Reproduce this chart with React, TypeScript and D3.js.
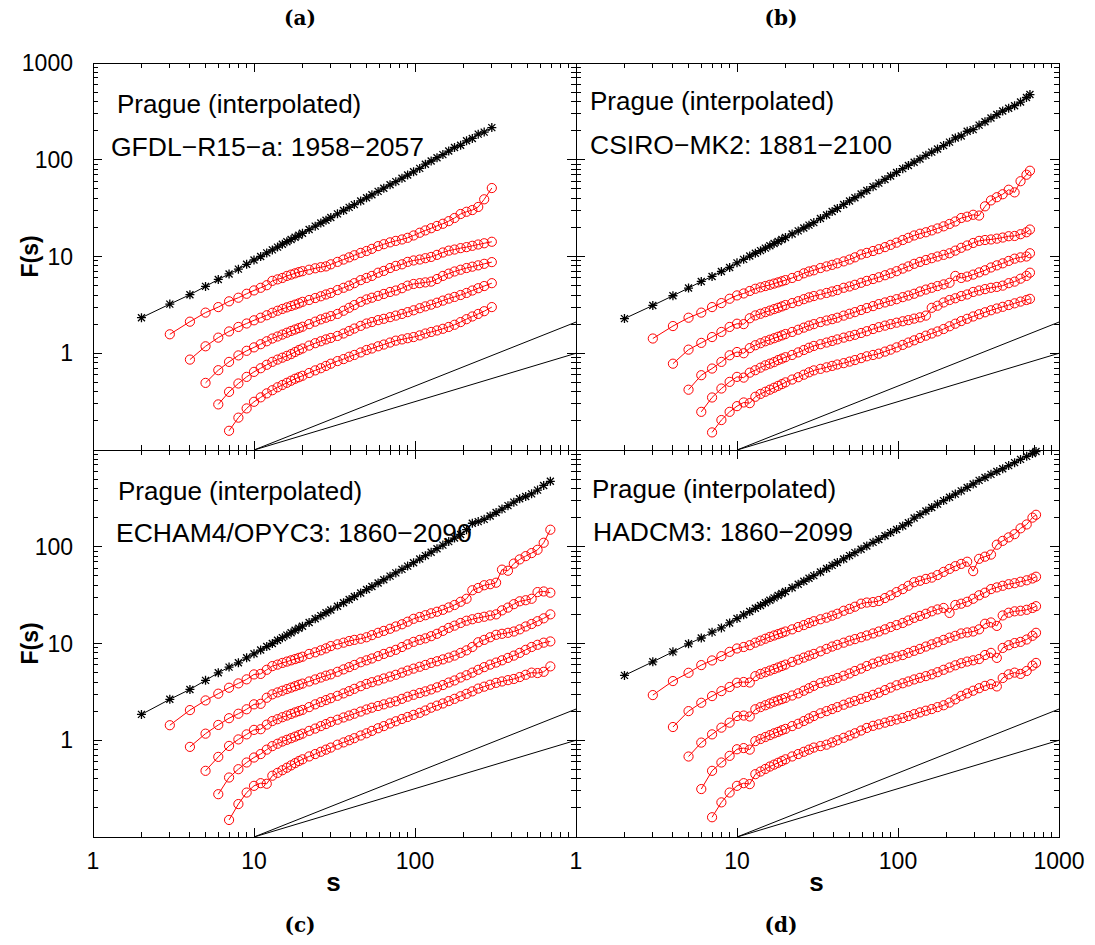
import React from "react";
import * as d3 from "d3";

// ---------- data: s (months) grids ----------
const S_HEAD = [2, 3, 4, 5, 6, 7, 8, 9, 10, 11, 12, 13, 14, 15, 16, 17, 18, 19, 20, 22, 24, 26, 28, 30, 33, 36, 39, 42, 46, 50, 54, 59, 64, 70, 76, 83, 90, 98, 107, 116, 126, 137, 149, 162, 176, 192, 209, 227, 247, 269];
const S_A = [...S_HEAD, 300];
const S_B = [...S_HEAD, 293, 319, 347, 378, 411, 447, 487, 530, 577, 628, 660];
const S_C = [...S_HEAD, 293, 319, 347, 378, 411, 447, 487, 530, 577, 630, 693];
const S_D = [...S_HEAD, 293, 319, 347, 378, 411, 447, 487, 530, 577, 630, 684, 720];

// ---------- panel (a) GFDL-R15-a ----------
const A_F = [2.33, 3.22, 4.03, 4.91, 5.79, 6.6, 7.4, 8.3, 9.2, 10.0, 10.9, 11.7, 12.5, 13.4, 14.2, 15.0, 15.8, 16.6, 17.4, 19.0, 20.6, 22.2, 23.7, 25.3, 27.6, 29.9, 32.2, 34.4, 37.5, 40.4, 43.4, 47.1, 50.8, 55.1, 59.4, 64.5, 69.5, 75.1, 81.4, 89.9, 97.1, 105, 113, 123, 134, 141, 157, 166, 184, 193, 215];
const A_D1 = [1.57, 2.12, 2.63, 3.0, 3.44, 3.75, 4.12, 4.46, 4.75, 5.05, 5.6, 5.8, 6.0, 6.3, 6.5, 6.7, 6.9, 7.05, 7.3, 7.55, 7.75, 7.9, 8.3, 8.8, 9.3, 9.8, 10.3, 10.9, 11.4, 12.0, 12.8, 13.4, 14.0, 14.5, 15.0, 15.6, 16.5, 17.6, 18.6, 19.6, 20.7, 21.8, 23.2, 25.0, 27.5, 29.0, 30.2, 32.5, 39, 51];
const A_D2 = [0.86, 1.18, 1.45, 1.68, 1.87, 2.03, 2.19, 2.33, 2.47, 2.62, 2.75, 2.87, 2.98, 3.08, 3.18, 3.28, 3.4, 3.55, 3.72, 3.88, 4.05, 4.2, 4.5, 4.75, 5.0, 5.3, 5.7, 6.0, 6.3, 6.8, 7.1, 7.6, 8.0, 8.3, 8.8, 9.1, 9.3, 9.6, 9.9, 10.4, 11.0, 11.5, 11.8, 12.2, 12.5, 12.9, 13.3, 13.7, 14.2];
const A_D3 = [0.494, 0.668, 0.814, 0.95, 1.06, 1.15, 1.24, 1.33, 1.42, 1.49, 1.56, 1.63, 1.70, 1.76, 1.82, 1.88, 2.0, 2.12, 2.24, 2.33, 2.42, 2.55, 2.75, 2.95, 3.15, 3.4, 3.6, 3.75, 3.92, 4.1, 4.3, 4.45, 4.7, 5.0, 5.2, 5.3, 5.4, 5.5, 5.85, 6.3, 6.65, 7.0, 7.3, 7.6, 7.85, 8.1, 8.4, 8.75];
const A_D4 = [0.296, 0.399, 0.487, 0.57, 0.642, 0.70, 0.76, 0.815, 0.86, 0.90, 0.94, 0.98, 1.03, 1.08, 1.12, 1.2, 1.27, 1.33, 1.39, 1.44, 1.51, 1.6, 1.7, 1.8, 1.92, 2.03, 2.1, 2.2, 2.27, 2.36, 2.45, 2.55, 2.66, 2.78, 2.92, 3.05, 3.18, 3.33, 3.5, 3.67, 3.82, 4.0, 4.2, 4.45, 4.7, 4.95, 5.3];
const A_D5 = [0.158, 0.216, 0.269, 0.315, 0.35, 0.385, 0.415, 0.445, 0.47, 0.495, 0.52, 0.545, 0.565, 0.585, 0.625, 0.665, 0.70, 0.74, 0.78, 0.83, 0.87, 0.92, 0.96, 1.02, 1.08, 1.12, 1.18, 1.23, 1.29, 1.35, 1.39, 1.43, 1.47, 1.53, 1.6, 1.66, 1.72, 1.79, 1.87, 1.97, 2.1, 2.25, 2.4, 2.55, 2.72, 3.0];

// ---------- panel (b) CSIRO-MK2 ----------
const B_F = [2.28, 3.12, 3.93, 4.72, 5.52, 6.22, 7.0, 7.7, 8.6, 9.34, 10.1, 10.8, 11.5, 12.2, 12.9, 13.6, 14.3, 15.0, 15.7, 17.1, 18.4, 19.7, 21.1, 22.4, 24.7, 26.9, 29.2, 31.4, 34.5, 37.5, 40.5, 44.3, 48.1, 52.7, 57.3, 62.6, 67.9, 73.9, 80.9, 87.3, 94.4, 102, 111, 120, 129, 140, 152, 168, 176, 197, 205, 228, 247, 270, 293, 319, 340, 362, 395, 440, 472];
const B_D1 = [1.42, 1.91, 2.33, 2.63, 3.0, 3.3, 3.66, 3.96, 4.15, 4.4, 4.64, 4.8, 4.95, 5.1, 5.25, 5.4, 5.55, 5.7, 6.0, 6.3, 6.7, 7.0, 7.2, 7.6, 7.9, 8.2, 8.5, 8.9, 9.3, 9.8, 10.5, 10.9, 11.4, 11.9, 12.5, 13.2, 13.9, 14.8, 15.6, 16.5, 17.2, 17.8, 18.6, 19.5, 20.5, 21.7, 23.0, 25.0, 25.8, 27.0, 26.5, 33, 38, 41, 44, 49, 46, 60, 70, 77];
const B_D2 = [0.78, 1.09, 1.28, 1.47, 1.66, 1.87, 2.02, 2.0, 2.3, 2.46, 2.56, 2.66, 2.76, 2.86, 2.95, 3.05, 3.15, 3.3, 3.45, 3.62, 3.78, 3.9, 4.05, 4.2, 4.35, 4.5, 4.75, 4.9, 5.1, 5.35, 5.6, 5.85, 6.1, 6.4, 6.7, 7.05, 7.5, 7.9, 8.4, 8.8, 9.2, 9.6, 10.0, 10.4, 10.8, 11.5, 12.3, 13.0, 13.8, 14.5, 14.8, 15.0, 15.3, 15.7, 16.2, 16.3, 17.0, 17.8, 19.0];
const B_D3 = [0.42, 0.593, 0.695, 0.814, 0.953, 1.03, 1.0, 1.13, 1.21, 1.27, 1.33, 1.38, 1.43, 1.48, 1.53, 1.58, 1.66, 1.75, 1.84, 1.93, 2.0, 2.1, 2.18, 2.25, 2.33, 2.45, 2.56, 2.66, 2.8, 2.93, 3.07, 3.22, 3.35, 3.48, 3.62, 3.8, 3.95, 4.12, 4.35, 4.55, 4.75, 4.95, 5.15, 5.35, 6.3, 6.0, 6.2, 6.5, 6.85, 7.2, 7.7, 8.1, 8.5, 9.0, 9.5, 9.8, 10.0, 10.8];
const B_D4 = [0.248, 0.349, 0.432, 0.506, 0.57, 0.56, 0.63, 0.668, 0.71, 0.75, 0.78, 0.81, 0.85, 0.88, 0.91, 0.96, 1.02, 1.08, 1.14, 1.19, 1.24, 1.29, 1.34, 1.39, 1.45, 1.5, 1.55, 1.62, 1.69, 1.78, 1.86, 1.93, 2.0, 2.07, 2.14, 2.2, 2.28, 2.35, 2.45, 2.95, 3.1, 3.35, 3.55, 3.7, 3.9, 4.05, 4.3, 4.45, 4.6, 4.75, 4.85, 5.0, 5.3, 5.5, 5.9, 6.3, 6.8];
const B_D5 = [0.152, 0.204, 0.248, 0.284, 0.31, 0.305, 0.355, 0.38, 0.40, 0.42, 0.44, 0.46, 0.48, 0.50, 0.535, 0.565, 0.60, 0.635, 0.665, 0.69, 0.715, 0.74, 0.765, 0.79, 0.82, 0.85, 0.89, 0.93, 0.96, 0.99, 1.04, 1.09, 1.15, 1.22, 1.29, 1.36, 1.44, 1.52, 1.6, 1.68, 1.78, 1.9, 2.02, 2.15, 2.27, 2.4, 2.53, 2.65, 2.78, 2.9, 3.02, 3.15, 3.28, 3.42, 3.55, 3.65];

// ---------- panel (c) ECHAM4/OPYC3 ----------
const C_F = [1.85, 2.65, 3.35, 4.16, 4.98, 5.7, 6.32, 7.11, 7.82, 8.56, 9.3, 10.0, 10.8, 11.5, 12.2, 12.9, 13.7, 14.4, 15.1, 16.5, 18.0, 19.4, 20.8, 22.2, 24.3, 26.4, 28.5, 30.6, 33.3, 36.1, 38.8, 42.2, 45.6, 49.7, 53.7, 58.4, 63.1, 68.4, 74.6, 80.9, 87.8, 95.5, 104, 113, 123, 134, 150, 175, 182, 192, 208, 226, 245, 266, 289, 313, 330, 352, 385, 430, 475];
const C_D1 = [1.43, 2.05, 2.58, 3.03, 3.49, 3.87, 4.26, 4.79, 4.85, 5.35, 5.84, 6.05, 6.3, 6.5, 6.7, 6.9, 7.1, 7.3, 7.8, 8.1, 8.5, 8.9, 9.4, 9.8, 10.2, 10.6, 10.9, 11.2, 11.6, 12.2, 12.9, 13.5, 14.2, 15.0, 15.8, 16.8, 18.0, 18.8, 19.6, 20.5, 21.3, 22.3, 23.6, 25.0, 27.0, 29.0, 35.5, 37.5, 40.0, 41.0, 42.5, 58.0, 56.5, 67, 74, 80, 86, 93, 110, 150];
const C_D2 = [0.854, 1.17, 1.44, 1.69, 1.88, 2.09, 2.35, 2.38, 2.75, 2.98, 3.12, 3.25, 3.38, 3.5, 3.62, 3.74, 3.85, 4.05, 4.25, 4.45, 4.65, 4.8, 5.1, 5.4, 5.7, 6.0, 6.4, 6.7, 7.0, 7.4, 7.8, 8.2, 8.6, 9.2, 9.8, 10.4, 10.9, 11.3, 11.9, 12.6, 13.5, 14.5, 15.3, 16.3, 17.2, 17.8, 18.4, 18.9, 19.5, 20.0, 22.0, 23.5, 25.5, 27.3, 28.0, 29.0, 34.0, 34.5, 33.5];
const C_D3 = [0.483, 0.673, 0.874, 1.02, 1.15, 1.28, 1.3, 1.45, 1.58, 1.65, 1.73, 1.8, 1.87, 1.94, 2.0, 2.06, 2.2, 2.35, 2.48, 2.6, 2.72, 2.88, 3.05, 3.22, 3.4, 3.62, 3.82, 3.98, 4.15, 4.35, 4.55, 4.75, 5.0, 5.25, 5.5, 5.75, 6.0, 6.3, 6.55, 6.85, 7.15, 7.5, 8.0, 8.5, 9.2, 10.3, 10.9, 11.6, 12.3, 12.6, 12.9, 13.3, 14.0, 15.0, 15.9, 17.0, 18.2, 20.0];
const C_D4 = [0.277, 0.412, 0.502, 0.589, 0.663, 0.72, 0.80, 0.87, 0.92, 0.97, 1.01, 1.05, 1.09, 1.13, 1.17, 1.25, 1.32, 1.4, 1.47, 1.55, 1.63, 1.72, 1.8, 1.88, 1.98, 2.08, 2.17, 2.26, 2.35, 2.45, 2.53, 2.68, 2.82, 2.95, 3.08, 3.2, 3.35, 3.52, 3.72, 3.95, 4.15, 4.45, 4.7, 5.0, 5.35, 5.7, 6.05, 6.35, 6.7, 7.1, 7.5, 8.0, 8.6, 9.2, 9.7, 10.2, 10.5];
const C_D5 = [0.15, 0.219, 0.288, 0.338, 0.36, 0.355, 0.43, 0.46, 0.49, 0.52, 0.55, 0.58, 0.61, 0.635, 0.68, 0.72, 0.76, 0.80, 0.84, 0.90, 0.95, 1.0, 1.05, 1.12, 1.18, 1.25, 1.33, 1.4, 1.49, 1.57, 1.66, 1.74, 1.83, 1.92, 2.03, 2.17, 2.28, 2.4, 2.54, 2.68, 2.85, 3.02, 3.2, 3.42, 3.58, 3.75, 3.92, 4.05, 4.18, 4.3, 4.5, 4.75, 5.0, 4.95, 5.1, 5.8];

// ---------- panel (d) HADCM3 ----------
const D_F = [4.68, 6.47, 8.2, 9.93, 11.4, 13.1, 14.5, 16.3, 18.1, 19.8, 21.4, 23.1, 24.7, 26.4, 28.0, 29.6, 31.3, 32.9, 34.5, 37.7, 40.9, 44.0, 47.2, 50.3, 54.9, 59.6, 64.2, 68.7, 74.8, 80.9, 86.9, 94.3, 102, 111, 119, 130, 140, 151, 164, 177, 198, 215, 234, 255, 276, 300, 325, 350, 378, 410, 445, 485, 520, 560, 600, 640, 690, 740, 800, 860, 920, 965];
const D_D1 = [2.93, 4.09, 4.98, 5.98, 6.68, 7.4, 8.2, 8.88, 9.2, 9.6, 10.2, 10.7, 11.2, 11.7, 12.1, 12.5, 12.9, 13.3, 14.0, 14.8, 15.5, 16.3, 17.0, 17.8, 18.5, 19.4, 20.3, 21.8, 22.8, 24.0, 25.8, 26.5, 26.8, 27.5, 29.5, 31.5, 34.0, 36.5, 39.5, 43.0, 44.5, 46.5, 48.0, 51.0, 55.0, 59.0, 63.0, 66.5, 70.0, 56, 75, 79, 83, 105, 115, 125, 135, 155, 170, 200, 214];
const D_D2 = [1.37, 2.0, 2.44, 2.86, 3.22, 3.55, 3.93, 4.0, 3.95, 4.6, 4.85, 5.05, 5.25, 5.45, 5.65, 5.85, 6.05, 6.45, 6.8, 7.15, 7.5, 7.8, 8.3, 8.8, 9.3, 9.7, 10.2, 10.7, 11.1, 11.6, 12.1, 12.7, 13.3, 14.0, 14.8, 15.5, 16.3, 17.3, 18.4, 19.3, 20.3, 21.5, 22.5, 23.3, 20.7, 25.0, 25.8, 27.0, 29.0, 31.5, 33.5, 36.5, 38.0, 39.5, 41.0, 42.0, 43.5, 45.0, 47.0, 49.0];
const D_D3 = [0.679, 0.946, 1.15, 1.35, 1.52, 1.78, 1.8, 1.76, 2.09, 2.2, 2.3, 2.4, 2.5, 2.58, 2.66, 2.74, 2.9, 3.05, 3.25, 3.45, 3.65, 3.9, 4.05, 4.2, 4.4, 4.65, 4.9, 5.2, 5.5, 5.85, 6.2, 6.5, 6.8, 7.05, 7.35, 7.6, 8.0, 8.4, 8.8, 9.3, 9.8, 10.3, 10.9, 11.5, 12.0, 12.7, 13.0, 13.3, 14.0, 16.0, 16.5, 15.2, 19.5, 20.8, 21.5, 21.8, 22.3, 23.3, 24.3];
const D_D4 = [0.313, 0.483, 0.589, 0.69, 0.807, 0.83, 0.80, 0.98, 1.03, 1.08, 1.13, 1.18, 1.22, 1.27, 1.31, 1.4, 1.48, 1.58, 1.68, 1.78, 1.9, 2.0, 2.1, 2.2, 2.33, 2.45, 2.55, 2.68, 2.8, 2.95, 3.1, 3.3, 3.5, 3.7, 3.88, 4.05, 4.25, 4.42, 4.6, 4.8, 5.05, 5.35, 5.65, 5.95, 6.25, 6.5, 6.7, 6.9, 7.6, 8.0, 7.1, 9.0, 9.6, 10.1, 10.4, 11.0, 12.0, 12.9];
const D_D5 = [0.16, 0.228, 0.288, 0.338, 0.36, 0.352, 0.446, 0.475, 0.505, 0.535, 0.56, 0.585, 0.61, 0.635, 0.68, 0.72, 0.76, 0.80, 0.84, 0.87, 0.9, 0.95, 1.0, 1.06, 1.12, 1.18, 1.26, 1.34, 1.41, 1.46, 1.52, 1.58, 1.64, 1.7, 1.78, 1.86, 1.94, 2.02, 2.1, 2.2, 2.3, 2.45, 2.65, 2.88, 3.05, 3.25, 3.45, 3.65, 3.8, 3.6, 4.4, 4.8, 5.0, 4.85, 5.2, 5.9, 6.3];

// reference power laws drawn in every panel
const FIT_S = [10, 1000];
const FIT_STEEP = [0.1, 2.1];
const FIT_FLAT = [0.1, 1.0];

const LINE1 = "Prague (interpolated)";
const PANELS = [
  { tag: "(a)", model: "GFDL\u2212R15\u2212a: 1958\u22122057", s: S_A, fa: A_F, dfa: [A_D1, A_D2, A_D3, A_D4, A_D5] },
  { tag: "(b)", model: "CSIRO\u2212MK2: 1881\u22122100", s: S_B, fa: B_F, dfa: [B_D1, B_D2, B_D3, B_D4, B_D5] },
  { tag: "(c)", model: "ECHAM4/OPYC3: 1860\u22122090", s: S_C, fa: C_F, dfa: [C_D1, C_D2, C_D3, C_D4, C_D5] },
  { tag: "(d)", model: "HADCM3: 1860\u22122099", s: S_D, fa: D_F, dfa: [D_D1, D_D2, D_D3, D_D4, D_D5] },
];

// ---------- layout ----------
const W = 1095;
const H = 945;
const COLS: [number, number][] = [[93, 576], [576, 1059]];
const ROWS: [number, number][] = [[63, 450], [450, 837]];
const TEXT_POS = [
  { x1: 117, y1: 113, x2: 111, y2: 156 },
  { x1: 590, y1: 110, x2: 590, y2: 154 },
  { x1: 118, y1: 500, x2: 116, y2: 542 },
  { x1: 592, y1: 498, x2: 593, y2: 541 },
];
const SANS = "'Liberation Sans', Arial, Helvetica, sans-serif";
const SERIF = "'DejaVu Serif', 'Liberation Serif', serif";

const X_DEC = [1, 10, 100, 1000];
const Y_DEC = [0.1, 1, 10, 100, 1000];
const MULT = [2, 3, 4, 5, 6, 7, 8, 9];

function minors(decs: number[]) {
  const out: number[] = [];
  for (let i = 0; i < decs.length - 1; i++) for (const m of MULT) out.push(decs[i] * m);
  return out;
}

const STAR = "M-4.5,0H4.5M0,-4.5V4.5M-3.5,-3.5L3.5,3.5M-3.5,3.5L3.5,-3.5";

function Panel({ idx }: { idx: number }) {
  const p = PANELS[idx];
  const col = idx % 2;
  const row = Math.floor(idx / 2);
  const [x0, x1] = COLS[col];
  const [y0, y1] = ROWS[row];
  const x = d3.scaleLog().domain([1, 1000]).range([x0, x1]);
  const y = d3.scaleLog().domain([0.1, 1000]).range([y1, y0]);
  const line = d3
    .line<[number, number]>()
    .x((d) => x(d[0]))
    .y((d) => y(d[1]));

  const pts = (vals: number[], start: number): [number, number][] =>
    vals.map((v, i) => [p.s[start + i], v] as [number, number]).filter((d) => d[0] !== undefined);

  const faPts = pts(p.fa, 0);
  const dfaPts = p.dfa.map((vals, k) => pts(vals, k + 1));

  const xMin = minors(X_DEC);
  const yMin = minors(Y_DEC);
  const MAJ = 9;
  const MIN = 5;

  const tp = TEXT_POS[idx];
  const yLabels = col === 0 ? (row === 0 ? [1, 10, 100, 1000] : [1, 10, 100]) : [];
  const xLabels = row === 1 ? (col === 0 ? [1, 10, 100] : [1, 10, 100, 1000]) : [];

  return (
    <g>
      {/* ticks */}
      <g stroke="#000" strokeWidth={1} shapeRendering="crispEdges">
        {X_DEC.map((v) => (
          <g key={"xM" + v}>
            <line x1={x(v)} x2={x(v)} y1={y1} y2={y1 - MAJ} />
            <line x1={x(v)} x2={x(v)} y1={y0} y2={y0 + MAJ} />
          </g>
        ))}
        {xMin.map((v) => (
          <g key={"xm" + v}>
            <line x1={x(v)} x2={x(v)} y1={y1} y2={y1 - MIN} />
            <line x1={x(v)} x2={x(v)} y1={y0} y2={y0 + MIN} />
          </g>
        ))}
        {Y_DEC.map((v) => (
          <g key={"yM" + v}>
            <line x1={x0} x2={x0 + MAJ} y1={y(v)} y2={y(v)} />
            <line x1={x1} x2={x1 - MAJ} y1={y(v)} y2={y(v)} />
          </g>
        ))}
        {yMin.map((v) => (
          <g key={"ym" + v}>
            <line x1={x0} x2={x0 + MIN} y1={y(v)} y2={y(v)} />
            <line x1={x1} x2={x1 - MIN} y1={y(v)} y2={y(v)} />
          </g>
        ))}
        <rect x={x0} y={y0} width={x1 - x0} height={y1 - y0} fill="none" />
      </g>

      {/* reference slopes */}
      <path d={line(FIT_S.map((s, i) => [s, FIT_STEEP[i]]) as [number, number][]) || ""} stroke="#000" strokeWidth={1} fill="none" />
      <path d={line(FIT_S.map((s, i) => [s, FIT_FLAT[i]]) as [number, number][]) || ""} stroke="#000" strokeWidth={1} fill="none" />

      {/* DFA curves (red circles) */}
      {dfaPts.map((ser, k) => (
        <g key={"dfa" + k}>
          <path d={line(ser) || ""} stroke="#ff0000" strokeWidth={1} fill="none" />
          {ser.map((d, i) => (
            <circle key={i} cx={x(d[0])} cy={y(d[1])} r={4.6} fill="none" stroke="#ff0000" strokeWidth={1} />
          ))}
        </g>
      ))}

      {/* FA curve (black stars) */}
      <path d={line(faPts) || ""} stroke="#000" strokeWidth={1} fill="none" />
      {faPts.map((d, i) => (
        <path key={i} d={STAR} transform={`translate(${x(d[0])},${y(d[1])})`} stroke="#000" strokeWidth={1.3} fill="none" />
      ))}

      {/* annotations */}
      <text x={tp.x1} y={tp.y1} fontFamily={SANS} fontSize={26} fill="#000">{LINE1}</text>
      <text x={tp.x2} y={tp.y2} fontFamily={SANS} fontSize={26.5} fill="#000">{p.model}</text>

      {/* tick labels */}
      {yLabels.map((v) => (
        <text key={"yl" + v} x={x0 - 20} y={y(v) + 8} textAnchor="end" fontFamily={SANS} fontSize={23} fill="#000">
          {String(v)}
        </text>
      ))}
      {xLabels.map((v) => (
        <text key={"xl" + v} x={x(v)} y={y1 + 32} textAnchor="middle" fontFamily={SANS} fontSize={23} fill="#000">
          {String(v)}
        </text>
      ))}
    </g>
  );
}

export default function App() {
  const captions = [
    { t: PANELS[0].tag, x: 300, y: 25 },
    { t: PANELS[1].tag, x: 781, y: 25 },
    { t: PANELS[2].tag, x: 300, y: 932 },
    { t: PANELS[3].tag, x: 781, y: 932 },
  ];
  return (
    <svg width={W} height={H} viewBox={`0 0 ${W} ${H}`} style={{ position: "absolute", left: 0, top: 0, background: "#fff" }}>
      <rect x={0} y={0} width={W} height={H} fill="#fff" />
      {PANELS.map((_, i) => (
        <Panel key={i} idx={i} />
      ))}
      {/* axis titles */}
      {ROWS.map((r, i) => (
        <text
          key={"fs" + i}
          transform={`translate(38,${(r[0] + r[1]) / 2}) rotate(-90)`}
          textAnchor="middle"
          fontFamily={SANS}
          fontWeight="bold"
          fontSize={23}
          fill="#000"
        >
          F(s)
        </text>
      ))}
      {COLS.map((c, i) => (
        <text key={"s" + i} x={(c[0] + c[1]) / 2 - 1} y={891} textAnchor="middle" fontFamily={SANS} fontWeight="bold" fontSize={26} fill="#000">
          s
        </text>
      ))}
      {captions.map((c) => (
        <text key={c.t} x={c.x} y={c.y} textAnchor="middle" fontFamily={SERIF} fontWeight="bold" fontSize={20} fill="#000">
          {c.t}
        </text>
      ))}
    </svg>
  );
}
